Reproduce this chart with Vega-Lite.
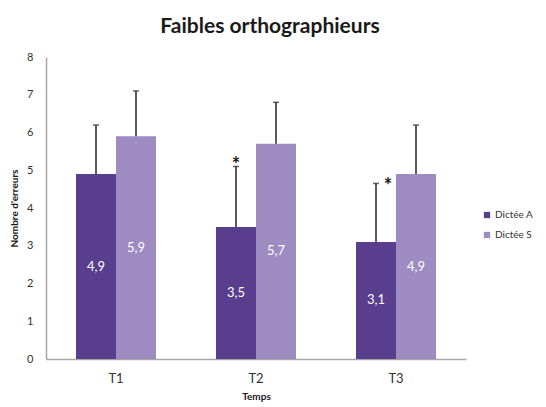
{
  "$schema": "https://vega.github.io/schema/vega-lite/v6.json",
  "width": 420,
  "height": 302,
  "autosize": {"type": "none"},
  "padding": {"left": 46, "top": 57, "right": 80, "bottom": 48},
  "background": "white",
  "config": {
    "view": {"stroke": null},
    "font": "Lato",
    "axis": {"labelFont": "Lato", "titleFont": "Lato"}
  },
  "title": {
    "text": "Faibles orthographieurs",
    "fontSize": 21,
    "fontWeight": "bold",
    "font": "Lato",
    "color": "#1a1a1a",
    "anchor": "middle",
    "dx": 14,
    "offset": 14
  },
  "data": {
    "values": [
      {"temps": "T1", "dictee": "Dictée A", "value": 4.9, "upper": 6.2, "label": "4,9"},
      {"temps": "T1", "dictee": "Dictée S", "value": 5.9, "upper": 7.1, "label": "5,9"},
      {"temps": "T2", "dictee": "Dictée A", "value": 3.5, "upper": 5.1, "label": "3,5"},
      {"temps": "T2", "dictee": "Dictée S", "value": 5.7, "upper": 6.8, "label": "5,7"},
      {"temps": "T3", "dictee": "Dictée A", "value": 3.1, "upper": 4.65, "label": "3,1"},
      {"temps": "T3", "dictee": "Dictée S", "value": 4.9, "upper": 6.2, "label": "4,9"}
    ]
  },
  "encoding": {
    "x": {
      "field": "temps",
      "type": "nominal",
      "scale": {"paddingInner": 0.4286, "paddingOuter": 0.2143},
      "axis": {
        "title": "Temps",
        "titleFontSize": 10,
        "titleFontWeight": "bold",
        "titleColor": "#1a1a1a",
        "titlePadding": 6,
        "labelAngle": 0,
        "labelFontSize": 13,
        "labelColor": "#333333",
        "labelPadding": 13,
        "ticks": false,
        "domainColor": "#a6a6a6",
        "domainWidth": 1.5
      }
    },
    "xOffset": {"field": "dictee", "type": "nominal", "scale": {"paddingInner": 0}}
  },
  "layer": [
    {
      "mark": {"type": "bar"},
      "encoding": {
        "y": {
          "field": "value",
          "type": "quantitative",
          "scale": {"domain": [0, 8]},
          "axis": {
            "title": "Nombre d'erreurs",
            "titleFontSize": 10,
            "titleFontWeight": "bold",
            "titleColor": "#1a1a1a",
            "titlePadding": 7,
            "values": [0, 1, 2, 3, 4, 5, 6, 7, 8],
            "labelFontSize": 11,
            "labelColor": "#333333",
            "labelPadding": 13,
            "ticks": false,
            "grid": false,
            "domainColor": "#a6a6a6",
            "domainWidth": 1.5
          }
        },
        "color": {
          "field": "dictee",
          "type": "nominal",
          "scale": {"domain": ["Dictée A", "Dictée S"], "range": ["#583e8c", "#9d8bc1"]},
          "legend": {
            "title": null,
            "orient": "none",
            "legendX": 436,
            "legendY": 153,
            "symbolType": "square",
            "symbolSize": 40,
            "symbolStrokeWidth": 0,
            "labelFontSize": 10,
            "labelColor": "#333333",
            "rowPadding": 10,
            "labelOffset": 3
          }
        }
      }
    },
    {
      "mark": {"type": "rule", "color": "#262626", "strokeWidth": 1.5},
      "encoding": {
        "y": {"field": "value", "type": "quantitative", "scale": {"domain": [0, 8]}, "axis": null},
        "y2": {"field": "upper"}
      }
    },
    {
      "mark": {"type": "tick", "color": "#262626", "thickness": 1.5, "size": 6},
      "encoding": {
        "y": {"field": "upper", "type": "quantitative", "scale": {"domain": [0, 8]}, "axis": null}
      }
    },
    {
      "mark": {"type": "text", "color": "white", "fontSize": 13, "baseline": "middle", "font": "Lato"},
      "encoding": {
        "y": {"field": "value", "type": "quantitative", "scale": {"domain": [0, 16]}, "axis": null},
        "text": {"field": "label"}
      }
    },
    {
      "transform": [{"filter": "datum.temps === 'T2' && datum.dictee === 'Dictée A'"}],
      "mark": {"type": "text", "text": "*", "color": "#1a1a1a", "fontSize": 20, "fontWeight": "bold", "baseline": "middle", "dy": 0},
      "encoding": {
        "y": {"field": "upper", "type": "quantitative", "scale": {"domain": [0, 8]}, "axis": null}
      }
    },
    {
      "transform": [{"filter": "datum.temps === 'T3' && datum.dictee === 'Dictée A'"}],
      "mark": {"type": "text", "text": "*", "color": "#1a1a1a", "fontSize": 20, "fontWeight": "bold", "baseline": "middle", "dx": 12, "dy": 4},
      "encoding": {
        "y": {"field": "upper", "type": "quantitative", "scale": {"domain": [0, 8]}, "axis": null}
      }
    }
  ],
  "resolve": {"scale": {"y": "independent"}}
}
